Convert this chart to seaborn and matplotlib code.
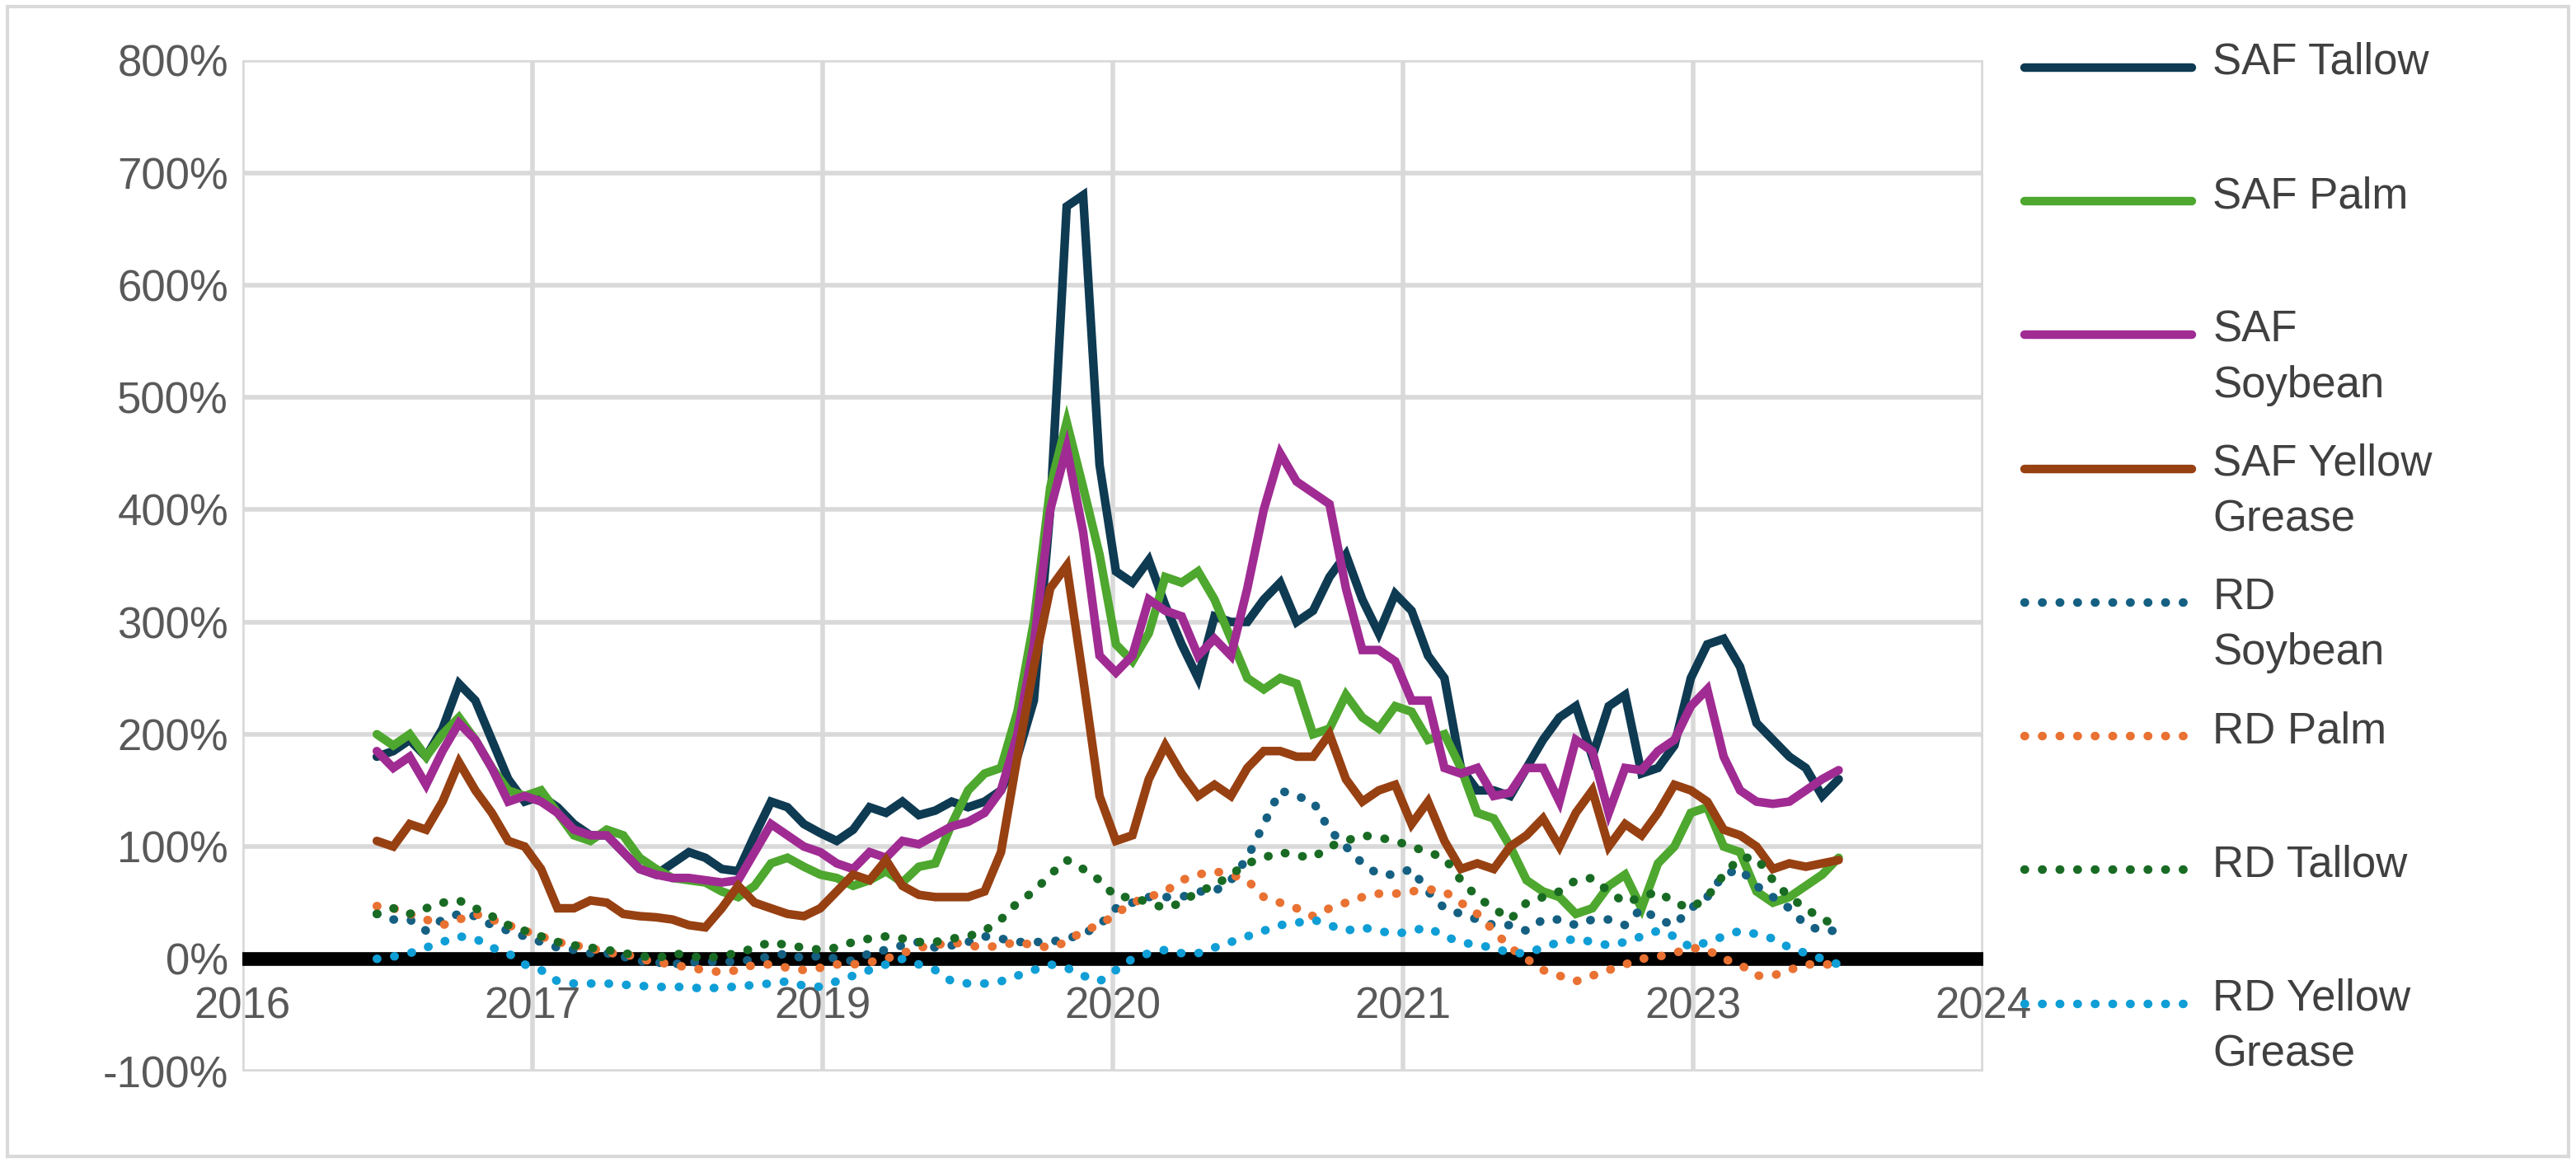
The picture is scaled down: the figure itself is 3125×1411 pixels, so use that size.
import numpy as np
import matplotlib
matplotlib.use("Agg")
import matplotlib.pyplot as plt
import seaborn as sns
from matplotlib.lines import Line2D
from matplotlib.patches import Rectangle

# Tick labels along the (Excel-style) date axis
YEAR_LABELS = ["2016", "2017", "2019", "2020", "2021", "2023", "2024"]

# Series values in percent, one value per observation period
SAF_TALLOW = [180, 185, 195, 180, 205, 245, 230, 195, 160, 140,
              145, 135, 120, 110, 110, 95, 80, 75, 85, 95,
              90, 80, 78, 110, 140, 135, 120, 112, 105, 115,
              135, 130, 140, 128, 132, 140, 135, 140, 150, 180,
              230, 400, 670, 680, 440, 345, 335, 355, 315, 280,
              250, 305, 300, 300, 320, 335, 300, 310, 340, 360,
              320, 290, 325, 310, 270, 250, 170, 150, 150, 145,
              170, 195, 215, 225, 180, 225, 235, 165, 170, 190,
              250, 280, 285, 260, 210, 195, 180, 170, 145, 160]
SAF_PALM = [200, 190, 200, 180, 200, 215, 195, 170, 150, 145,
            150, 130, 110, 105, 115, 110, 90, 80, 72, 70,
            68, 60, 55, 65, 85, 90, 82, 75, 72, 65,
            70, 78, 68, 82, 85, 120, 150, 165, 170, 220,
            300, 420, 478, 420, 360, 280, 265, 290, 340, 335,
            345, 320, 285, 250, 240, 250, 245, 200, 205, 235,
            215, 205, 225, 220, 195, 200, 170, 130, 125, 100,
            70, 60, 55, 40, 45, 65, 75, 45, 85, 100,
            130, 135, 100, 95, 60, 50, 55, 65, 75, 90]
SAF_SOYBEAN = [185, 170, 180, 155, 185, 210, 195, 170, 140, 145,
               140, 130, 115, 110, 110, 95, 80, 75, 72, 72,
               70, 68, 70, 95, 120, 110, 100, 95, 85, 80,
               95, 90, 105, 102, 110, 118, 122, 130, 150, 200,
               280, 400, 455, 380, 270, 255, 270, 320, 310, 305,
               270, 285, 270, 330, 400, 450, 425, 415, 405, 330,
               275, 275, 265, 230, 230, 170, 165, 170, 145, 148,
               170, 170, 140, 195, 185, 130, 170, 168, 185, 195,
               225, 240, 180, 150, 140, 138, 140, 150, 160, 168]
SAF_YELLOW_GREASE = [105, 100, 120, 115, 140, 175, 150, 130, 105, 100,
                     80, 45, 45, 52, 50, 40, 38, 37, 35, 30,
                     28, 45, 65, 50, 45, 40, 38, 45, 60, 75,
                     70, 88, 65, 57, 55, 55, 55, 60, 95, 180,
                     260, 330, 350, 250, 145, 105, 110, 160, 190, 165,
                     145, 155, 145, 170, 185, 185, 180, 180, 200, 160,
                     140, 150, 155, 120, 140, 105, 80, 85, 80, 100,
                     110, 125, 100, 130, 150, 100, 120, 110, 130, 155,
                     150, 140, 115, 110, 100, 80, 85, 82, 85, 88]
RD_SOYBEAN = [40, 35, 35, 25, 35, 40, 38, 30, 25, 20,
              15, 10, 8, 5, 5, 2, -2, -3, -5, -3,
              -3, -2, -3, 0, 2, 5, 0, 3, 0, -2,
              5, 8, 12, 15, 10, 12, 15, 20, 18, 15,
              15, 15, 18, 22, 30, 45, 50, 55, 55, 55,
              60, 60, 70, 90, 120, 150, 145, 140, 115, 100,
              85, 75, 75, 80, 60, 45, 40, 35, 30, 30,
              25, 35, 35, 30, 35, 35, 30, 45, 35, 30,
              45, 55, 75, 80, 65, 55, 45, 30, 25, 25]
RD_PALM = [47, 45, 40, 35, 30, 35, 40, 35, 30, 25,
           20, 15, 12, 10, 5, 5, 0, -3, -5, -8,
           -10, -12, -10, -5, -5, -8, -10, -8, -5, -5,
           -3, 0, 5, 10, 12, 15, 12, 10, 12, 15,
           12, 10, 15, 25, 30, 40, 50, 55, 60, 70,
           75, 78, 75, 70, 55, 50, 45, 38, 45, 50,
           55, 58, 58, 60, 62, 60, 50, 40, 25, 10,
           0, -10, -15, -20, -15, -10, -5, 0, 2, 5,
           10, 8, 0, -5, -15, -15, -10, -5, -5, -5]
RD_TALLOW = [40, 45, 40, 45, 50, 52, 45, 38, 30, 25,
             20, 15, 12, 10, 8, 5, 3, 0, 5, 3,
             0, 3, 5, 10, 15, 12, 10, 8, 10, 15,
             18, 20, 18, 15, 15, 18, 20, 25, 35, 50,
             60, 75, 88, 80, 70, 55, 55, 50, 45, 50,
             60, 65, 75, 85, 90, 95, 92, 90, 100, 105,
             110, 108, 105, 100, 95, 90, 70, 55, 45, 35,
             50, 55, 60, 70, 72, 60, 50, 55, 60, 50,
             45, 55, 75, 90, 90, 70, 55, 45, 35, 30]
RD_YELLOW_GREASE = [0, 2, 5, 10, 15, 20, 18, 10, 5, -5,
                    -10, -20, -22, -22, -22, -23, -24, -25, -25, -25,
                    -27, -25, -25, -23, -22, -20, -24, -25, -20, -15,
                    -10, -5, 0, -5, -10, -20, -22, -22, -20, -15,
                    -10, -5, -8, -15, -20, -10, 0, 5, 8, 5,
                    5, 10, 15, 20, 25, 30, 32, 35, 30, 25,
                    28, 25, 22, 25, 28, 20, 15, 12, 10, 5,
                    5, 10, 15, 18, 15, 12, 15, 20, 25, 20,
                    10, 15, 20, 25, 22, 18, 10, 5, 0, -5]

SERIES = [
    ("SAF Tallow", SAF_TALLOW, "#0E3A52", "-"),
    ("SAF Palm", SAF_PALM, "#4EA72E", "-"),
    ("SAF\nSoybean", SAF_SOYBEAN, "#A02B93", "-"),
    ("SAF Yellow\nGrease", SAF_YELLOW_GREASE, "#974012", "-"),
    ("RD\nSoybean", RD_SOYBEAN, "#156082", ":"),
    ("RD Palm", RD_PALM, "#E97132", ":"),
    ("RD Tallow", RD_TALLOW, "#196B24", ":"),
    ("RD Yellow\nGrease", RD_YELLOW_GREASE, "#0F9ED5", ":"),
]
DOTS = (0, (0.05, 2.0))

sns.set_style("white")
plt.rcParams["font.family"] = ["Liberation Sans", "DejaVu Sans"]

fig = plt.figure(figsize=(31.25, 14.11), dpi=100)
ax = fig.add_axes([0.094, 0.079, 0.676, 0.869])

period = np.arange(len(SAF_TALLOW))
ax.axhline(0, color="black", linewidth=12, zorder=1.5)
for label, values, color, style in SERIES:
    ls = "-" if style == "-" else DOTS
    sns.lineplot(x=period, y=values, ax=ax, color=color, linewidth=7.5,
                 linestyle=ls, dash_capstyle="round", solid_joinstyle="miter",
                 legend=False, zorder=2)

# axis geometry: year ticks equally spaced like the Excel axis
tick_pos = -8.2 + 17.67 * np.arange(len(YEAR_LABELS))
ax.set_xlim(tick_pos[0], tick_pos[-1])
ax.set_ylim(-100, 800)
ax.set_xticks(tick_pos)
ax.set_xticklabels(YEAR_LABELS)
ax.set_yticks(np.arange(-100, 801, 100))
ax.set_yticklabels([f"{v}%" for v in range(-100, 801, 100)])
ax.grid(True, color="#D9D9D9", linewidth=4)
ax.set_axisbelow(True)
for s in ["top", "right", "left"]:
    ax.spines[s].set_visible(False)
ax.spines["bottom"].set_position(("data", 0))
ax.spines["bottom"].set_linewidth(0)
ax.tick_params(axis="both", length=0, labelsize=38, labelcolor="#595959")
ax.tick_params(axis="x", pad=24)
ax.tick_params(axis="y", pad=12)

# legend drawn at the right side, Excel style wrapping
legend_rows = [0.942, 0.827, 0.712, 0.597, 0.482, 0.367, 0.252, 0.137]
for (label, values, color, style), yy in zip(SERIES, legend_rows):
    ls = "-" if style == "-" else DOTS
    fig.add_artist(Line2D([0.786, 0.851], [yy, yy], color=color,
                          linewidth=7.5, linestyle=ls,
                          dash_capstyle="round", solid_capstyle="round"))
    fig.text(0.859, yy + 0.022, label, fontsize=38, color="#404040",
             va="top", ha="left", linespacing=1.45)

fig.add_artist(Rectangle((0.003, 0.006), 0.994, 0.988, transform=fig.transFigure,
                         fill=False, edgecolor="#D9D9D9", linewidth=3))

fig.savefig("out.png", dpi=100)
